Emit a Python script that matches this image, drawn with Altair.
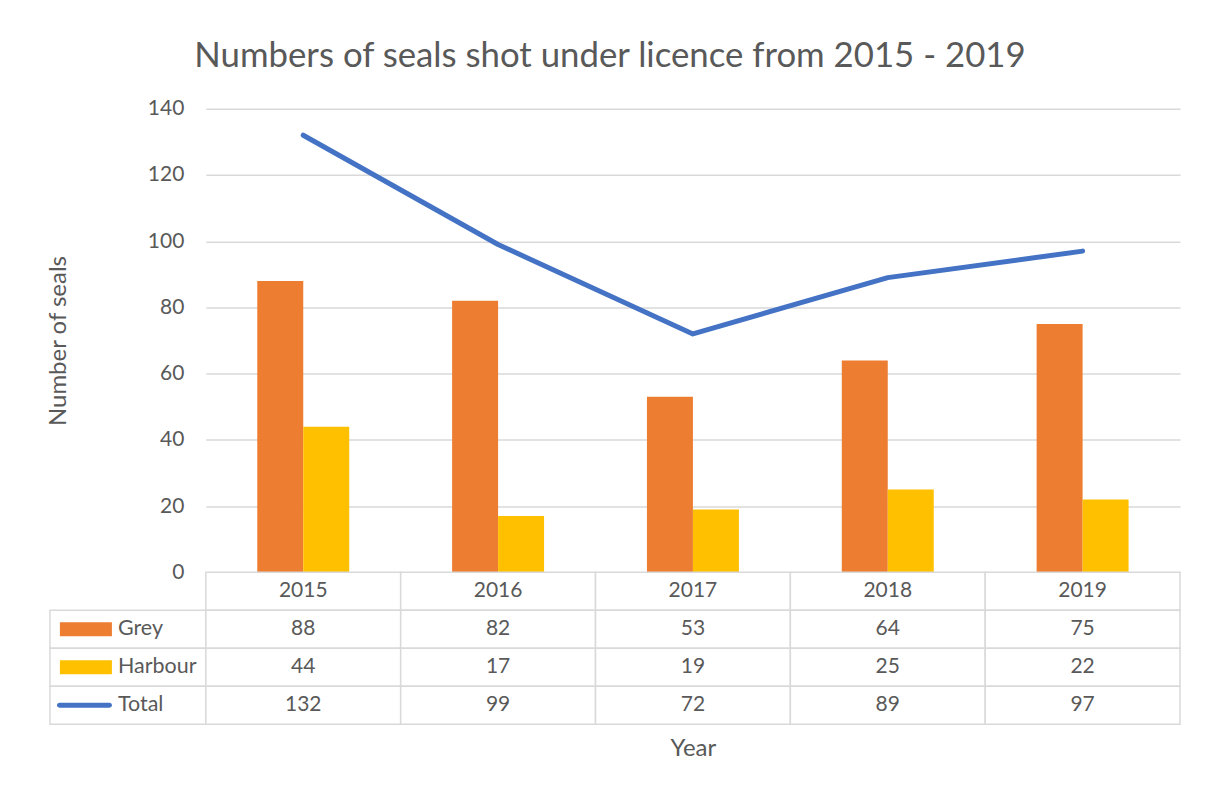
import altair as alt
import pandas as pd

# ---- data ----
years = ["2015", "2016", "2017", "2018", "2019"]
grey = [88, 82, 53, 64, 75]
harbour = [44, 17, 19, 25, 22]
total = [132, 99, 72, 89, 97]
series_names = ["Grey", "Harbour", "Total"]
y_ticks = [0, 20, 40, 60, 80, 100, 120, 140]

TEXT = "#595959"
GRID = "#D9D9D9"
C_GREY = "#ED7D31"
C_HARB = "#FFC000"
C_TOT = "#4472C4"
FONT = "Lato"

W, H_TOP, H_TAB = 975, 464, 152
KEYW = 0.8  # width of legend-key column, in column units

# ---- top panel: clustered bars + total line ----
bars_df = pd.DataFrame(
    [{"Year": y, "Series": "Grey", "Value": g} for y, g in zip(years, grey)]
    + [{"Year": y, "Series": "Harbour", "Value": h} for y, h in zip(years, harbour)]
)
line_df = pd.DataFrame({"Year": years, "Total": total})

xscale = alt.Scale(domain=years, paddingInner=0.528, paddingOuter=0.264)
yscale = alt.Scale(domain=[0, 140], nice=False)

bars = alt.Chart(bars_df).mark_bar().encode(
    x=alt.X("Year:N", scale=xscale, axis=None),
    xOffset=alt.XOffset("Series:N", sort=["Grey", "Harbour"],
                        scale=alt.Scale(paddingInner=0, paddingOuter=0)),
    y=alt.Y("Value:Q", scale=yscale,
            axis=alt.Axis(values=y_ticks, title="Number of seals", grid=True,
                          gridColor=GRID, gridWidth=1.5, domain=False, ticks=False,
                          tickSize=0, labelPadding=22, titlePadding=77,
                          titleFontSize=24)),
    color=alt.Color("Series:N", scale=alt.Scale(domain=["Grey", "Harbour"],
                                                range=[C_GREY, C_HARB]), legend=None),
)

line = alt.Chart(line_df).mark_line(color=C_TOT, strokeWidth=5, strokeCap="round",
                                    strokeJoin="round").encode(
    x=alt.X("Year:N", scale=xscale, axis=None),
    y=alt.Y("Total:Q", scale=yscale),
)

top = alt.layer(bars, line).properties(
    width=W, height=H_TOP,
    title=alt.TitleParams("Numbers of seals shot under licence from 2015 - 2019",
                          fontSize=34.8, font=FONT, fontWeight="normal", color=TEXT,
                          anchor="middle", dx=-83, offset=22.5),
)

# ---- bottom panel: data table ----
rows_vals = [grey, harbour, total]
cells = []
texts = []
for c, y in enumerate(years):
    cells.append({"x0": c, "x1": c + 1, "r0": 0, "r1": 1})
    texts.append({"xc": c + 0.5, "rc": 0.5, "t": y})
for r, (name, vals) in enumerate(zip(series_names, rows_vals), start=1):
    cells.append({"x0": -KEYW, "x1": 0, "r0": r, "r1": r + 1})
    for c, v in enumerate(vals):
        cells.append({"x0": c, "x1": c + 1, "r0": r, "r1": r + 1})
        texts.append({"xc": c + 0.5, "rc": r + 0.5, "t": str(v)})
cells_df = pd.DataFrame(cells)
texts_df = pd.DataFrame(texts)

labels_df = pd.DataFrame({"xl": [-0.451] * 3, "rc": [1.5, 2.5, 3.5], "t": series_names})
keys_df = pd.DataFrame({"k0": [-0.749, -0.749], "k1": [-0.482, -0.482],
                        "r0": [1.5 - 0.184, 2.5 - 0.184], "r1": [1.5 + 0.184, 2.5 + 0.184],
                        "s": ["Grey", "Harbour"]})
keyline_df = pd.DataFrame({"k0": [-0.751], "k1": [-0.495], "rc": [3.5]})

tx = alt.Scale(domain=[0, 5], nice=False, zero=False)
ty = alt.Scale(domain=[0, 4], nice=False, zero=False, reverse=True)
xaxis = alt.Axis(title="Year", labels=False, ticks=False, domain=False, grid=False,
                 titlePadding=12, titleFontSize=24)

cell_marks = alt.Chart(cells_df).mark_rect(fill="white", stroke=GRID, strokeWidth=1.5).encode(
    x=alt.X("x0:Q", scale=tx, axis=xaxis), x2="x1:Q",
    y=alt.Y("r0:Q", scale=ty, axis=None), y2="r1:Q",
)
text_marks = alt.Chart(texts_df).mark_text(font=FONT, fontSize=21, color=TEXT,
                                           align="center", baseline="middle").encode(
    x=alt.X("xc:Q", scale=tx), y=alt.Y("rc:Q", scale=ty), text="t:N",
)
label_marks = alt.Chart(labels_df).mark_text(font=FONT, fontSize=21.5, color=TEXT,
                                             align="left", baseline="middle").encode(
    x=alt.X("xl:Q", scale=tx), y=alt.Y("rc:Q", scale=ty), text="t:N",
)
key_marks = alt.Chart(keys_df).mark_rect().encode(
    x=alt.X("k0:Q", scale=tx), x2="k1:Q",
    y=alt.Y("r0:Q", scale=ty), y2="r1:Q",
    color=alt.Color("s:N", scale=alt.Scale(domain=["Grey", "Harbour"],
                                           range=[C_GREY, C_HARB]), legend=None),
)
keyline_marks = alt.Chart(keyline_df).mark_rule(color=C_TOT, strokeWidth=5,
                                                strokeCap="round").encode(
    x=alt.X("k0:Q", scale=tx), x2="k1:Q", y=alt.Y("rc:Q", scale=ty),
)

table = alt.layer(cell_marks, key_marks, keyline_marks, text_marks, label_marks).properties(
    width=W, height=H_TAB
).resolve_scale(color="independent")

chart = alt.vconcat(top, table, spacing=0, bounds="flush").properties(
    padding={"left": 38, "top": 30.5, "right": 20, "bottom": 20}
).configure_view(stroke=None).configure_axis(
    labelFont=FONT, labelFontSize=21, labelColor=TEXT,
    titleFont=FONT, titleFontSize=24, titleColor=TEXT, titleFontWeight="normal",
).configure_concat(spacing=0)

chart.save("out.html", embed_options={"renderer": "svg", "actions": False})
